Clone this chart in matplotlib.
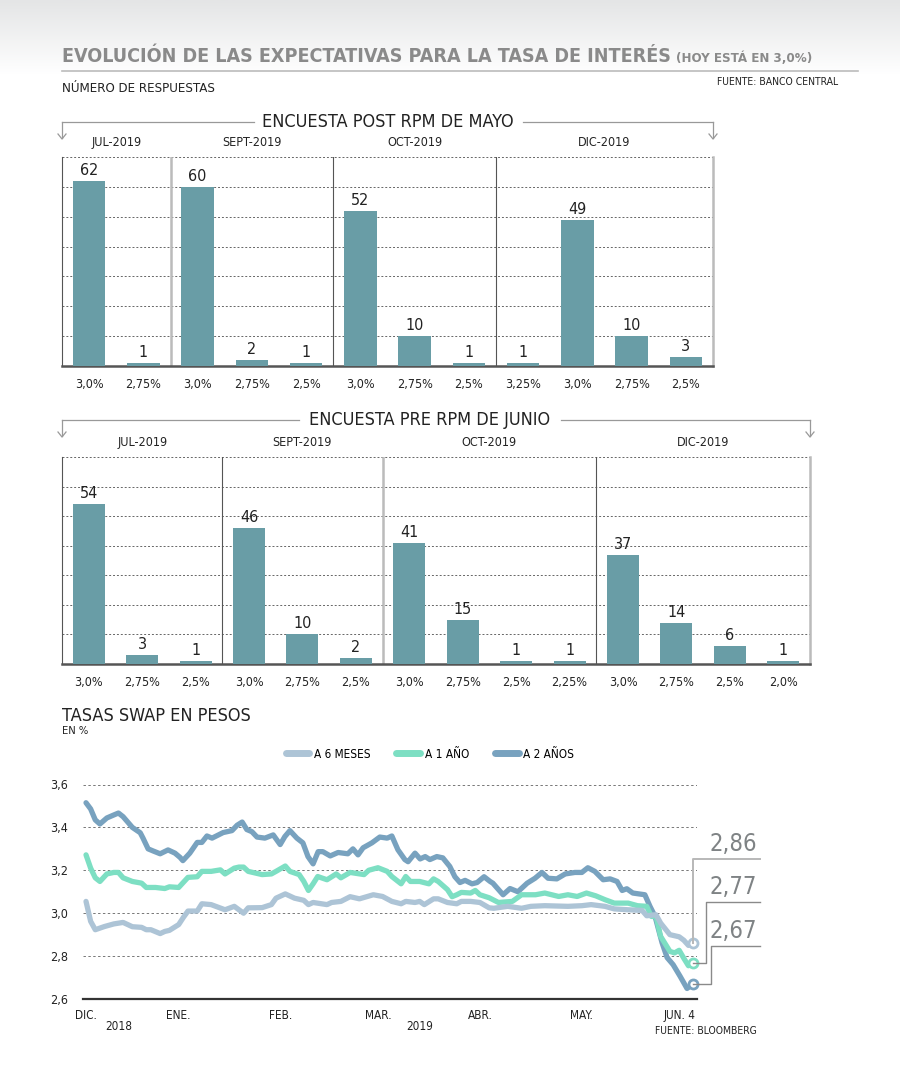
import matplotlib
matplotlib.use('Agg')
import matplotlib.pyplot as plt
from matplotlib.lines import Line2D
from matplotlib.colors import LinearSegmentedColormap
from matplotlib.transforms import blended_transform_factory
import numpy as np

plt.rcParams['font.family'] = ['DejaVu Sans']
plt.rcParams['font.stretch'] = 'condensed'

# --- encuesta post RPM de mayo
groups1 = ['JUL-2019', 'SEPT-2019', 'OCT-2019', 'DIC-2019']
sizes1 = [2, 3, 3, 4]
cats1 = ['3,0%', '2,75%', '3,0%', '2,75%', '2,5%', '3,0%', '2,75%', '2,5%',
         '3,25%', '3,0%', '2,75%', '2,5%']
vals1 = [62, 1, 60, 2, 1, 52, 10, 1, 1, 49, 10, 3]

# --- encuesta pre RPM de junio
groups2 = ['JUL-2019', 'SEPT-2019', 'OCT-2019', 'DIC-2019']
sizes2 = [3, 3, 4, 4]
cats2 = ['3,0%', '2,75%', '2,5%', '3,0%', '2,75%', '2,5%', '3,0%', '2,75%',
         '2,5%', '2,25%', '3,0%', '2,75%', '2,5%', '2,0%']
vals2 = [54, 3, 1, 46, 10, 2, 41, 15, 1, 1, 37, 14, 6, 1]

# --- tasas swap (indice = dia habil desde 3-dic-2018)
x_2a = [0, 1, 2, 3, 4.5, 6, 7, 8, 10, 11.7, 12.3, 13.4, 14.5, 16, 17.7, 19.2, 20.3, 20.9,
        22.4, 24, 25, 26.1, 27.2, 29.6, 31.5, 32.6, 33.7, 34.7, 35.8, 36.9, 38.6, 40.4,
        41.9, 42.9, 44, 45.5, 46.8, 47.9, 49, 50.1, 51.1, 52.7, 54.4, 56.5, 57.6, 58.7,
        59.8, 61.7, 63.4, 65, 66, 67.3, 68.8, 69.5, 71, 72.1, 73.2, 74.2, 75.7, 77, 78.5,
        79.6, 80.7, 81.8, 83.3, 84.4, 85.9, 87.2, 87.8, 90, 91.5, 93.2, 95.2, 96.9, 98.4,
        99.7, 101.6, 103.4, 105.5, 107, 108.3, 109.8, 111.6, 113.1, 114.6, 115.7, 116.7,
        118, 120.6, 121.7, 122.8, 124.3, 125.4, 126.7, 128.2, 129.7, 131]
y_2a = [3.515, 3.486, 3.435, 3.416, 3.444, 3.458, 3.467, 3.45, 3.40, 3.375, 3.35, 3.30,
        3.29, 3.277, 3.295, 3.28, 3.26, 3.245, 3.28, 3.33, 3.33, 3.36, 3.35, 3.376, 3.385,
        3.41, 3.425, 3.39, 3.38, 3.355, 3.35, 3.365, 3.32, 3.357, 3.385, 3.35, 3.328, 3.264,
        3.23, 3.287, 3.287, 3.267, 3.283, 3.277, 3.30, 3.272, 3.305, 3.328, 3.355, 3.35,
        3.36, 3.296, 3.25, 3.24, 3.28, 3.253, 3.264, 3.25, 3.264, 3.258, 3.218, 3.17, 3.143,
        3.153, 3.137, 3.143, 3.17, 3.148, 3.14, 3.086, 3.115, 3.10, 3.14, 3.163, 3.19, 3.163,
        3.16, 3.183, 3.19, 3.19, 3.212, 3.195, 3.156, 3.16, 3.148, 3.106, 3.114, 3.094,
        3.086, 3.032, 2.985, 2.863, 2.793, 2.76, 2.706, 2.649, 2.67]

x_1a = [0, 1, 2, 3, 4.5, 6, 7, 8, 10, 12, 13, 15, 17, 18, 20, 22, 24, 25, 27, 29, 30, 32,
        33, 34, 35, 38, 40, 41, 43, 44, 46, 47, 48, 49, 50, 52, 54, 55, 57, 60, 61, 63, 65,
        66, 68, 69, 70, 72, 74, 75, 76, 78, 79, 80, 81, 83, 84, 85, 87, 89, 92, 94, 97, 99,
        102, 104, 106, 108, 110, 112, 114, 117, 119, 121, 122, 123, 124, 126, 127, 128,
        129, 130, 131]
y_1a = [3.272, 3.21, 3.165, 3.148, 3.183, 3.19, 3.19, 3.165, 3.148, 3.14, 3.12, 3.12,
        3.115, 3.123, 3.12, 3.167, 3.17, 3.195, 3.195, 3.202, 3.183, 3.21, 3.215, 3.215,
        3.195, 3.18, 3.183, 3.195, 3.22, 3.195, 3.18, 3.148, 3.106, 3.137, 3.171, 3.156,
        3.183, 3.165, 3.19, 3.18, 3.20, 3.212, 3.195, 3.171, 3.137, 3.171, 3.148, 3.148,
        3.137, 3.16, 3.148, 3.11, 3.077, 3.086, 3.097, 3.094, 3.106, 3.086, 3.072, 3.05,
        3.055, 3.086, 3.086, 3.094, 3.078, 3.086, 3.078, 3.094, 3.081, 3.063, 3.047, 3.047,
        3.035, 3.032, 2.985, 2.985, 2.892, 2.822, 2.815, 2.827, 2.79, 2.755, 2.77]

x_6m = [0, 1, 2, 4, 6, 8, 10, 12, 13, 14, 16, 17, 18, 20, 21, 22, 24, 25, 27, 30, 32, 34,
        35, 38, 40, 41, 43, 45, 47, 48, 49, 52, 53, 55, 57, 59, 62, 64, 66, 68, 69, 71, 72,
        73, 75, 76, 78, 80, 81, 83, 85, 87, 88, 91, 94, 96, 99, 104, 107, 109, 112, 114,
        117, 120, 121, 123, 124, 126, 128, 129, 130, 131]
y_6m = [3.055, 2.962, 2.923, 2.938, 2.95, 2.957, 2.937, 2.934, 2.923, 2.923, 2.905, 2.915,
        2.92, 2.947, 2.98, 3.01, 3.01, 3.044, 3.04, 3.016, 3.032, 3.0, 3.025, 3.026, 3.04,
        3.07, 3.09, 3.07, 3.06, 3.04, 3.05, 3.04, 3.05, 3.055, 3.077, 3.067, 3.086, 3.078,
        3.055, 3.044, 3.055, 3.05, 3.055, 3.04, 3.067, 3.067, 3.05, 3.044, 3.055, 3.055,
        3.05, 3.025, 3.023, 3.032, 3.023, 3.032, 3.035, 3.032, 3.035, 3.04, 3.032, 3.02,
        3.016, 3.013, 2.988, 2.993, 2.954, 2.9, 2.89, 2.874, 2.85, 2.86]

month_idx = [0, 20, 42, 63, 85, 107, 128]
month_lbl = ['DIC.', 'ENE.', 'FEB.', 'MAR.', 'ABR.', 'MAY.', 'JUN. 4']
end_lbl = ['2,86', '2,77', '2,67']

BAR = '#699da6'
C6M, C1A, C2A = '#adc4d6', '#7ddfc3', '#78a2bf'
TXT = '#222222'

W, H = 900, 1070
fig = plt.figure(figsize=(9, 10.7), dpi=100)


def fx(x):
    return x / W


def fy(y):
    return 1 - y / H


# gray gradient at the top
bg = fig.add_axes([0, fy(75), 1, 75 / H], zorder=-5)
cmap = LinearSegmentedColormap.from_list('g', ['#e4e5e6', '#ffffff'])
bg.imshow(np.linspace(0, 1, 64).reshape(-1, 1), cmap=cmap, aspect='auto', extent=[0, 1, 0, 1])
bg.axis('off')

fig.text(fx(62), fy(56), 'EVOLUCIÓN DE LAS EXPECTATIVAS PARA LA TASA DE INTERÉS',
         fontsize=14.1, color='#8a8a8a', fontweight='bold', va='center')
fig.text(fx(676), fy(58), '(HOY ESTÁ EN 3,0%)', fontsize=9.5, color='#8a8a8a',
         fontweight='bold', va='center', ha='left')
fig.add_artist(Line2D([fx(62), fx(858)], [fy(71), fy(71)], color='#bbbbbb', lw=1.2))
fig.text(fx(62), fy(88), 'NÚMERO DE RESPUESTAS', fontsize=9.5, color=TXT, va='center')
fig.text(fx(838), fy(82), 'FUENTE: BANCO CENTRAL', fontsize=7.5, color=TXT, va='center', ha='right')


def header(text, xc, y, x0, x1, gap0, gap1):
    fig.text(fx(xc), fy(y), text, fontsize=13, color=TXT, ha='center', va='center')
    for a, b in [(x0, gap0), (gap1, x1)]:
        fig.add_artist(Line2D([fx(a), fx(b)], [fy(y), fy(y)], color='#999999', lw=0.9))
    for xe in (x0, x1):
        fig.add_artist(Line2D([fx(xe), fx(xe)], [fy(y), fy(y + 16)], color='#999999', lw=0.9))
        fig.add_artist(Line2D([fx(xe - 4), fx(xe), fx(xe + 4)],
                              [fy(y + 12), fy(y + 17), fy(y + 12)], color='#999999', lw=0.9))


def bar_panel(rect, cats, vals, groups, sizes, seps):
    ax = fig.add_axes(rect)
    x = np.arange(len(vals))
    ax.bar(x, vals, width=0.6, color=BAR, zorder=3)
    ax.set_xlim(-0.5, len(vals) - 0.5)
    ax.set_ylim(0, 70)
    ax.set_yticks(range(10, 71, 10))
    ax.yaxis.grid(True, linestyle=(0, (2, 2)), color='#666666', lw=0.7)
    ax.tick_params(left=False, labelleft=False, bottom=False, pad=5)
    ax.set_xticks(x)
    ax.set_xticklabels(cats, fontsize=9, color=TXT)
    for xi, v in zip(x, vals):
        ax.text(xi, v + 1.0, str(v), ha='center', va='bottom', fontsize=11.5, color=TXT, zorder=4)
    ax.spines['top'].set_visible(False)
    ax.spines['left'].set_color('#555555')
    ax.spines['left'].set_linewidth(0.8)
    ax.spines['right'].set_color('#bbbbbb')
    ax.spines['right'].set_linewidth(1.8)
    ax.spines['bottom'].set_color('#555555')
    ax.spines['bottom'].set_linewidth(1.8)
    bounds = np.cumsum(sizes)[:-1] - 0.5
    for b, s in zip(bounds, seps):
        if s == 'g':
            ax.axvline(b, color='#bbbbbb', lw=1.8, zorder=2)
        else:
            ax.axvline(b, color='#555555', lw=0.8, zorder=2)
    centers = np.cumsum(sizes) - np.array(sizes) / 2 - 0.5
    for c, g in zip(centers, groups):
        ax.annotate(g, xy=(c, 1), xycoords=('data', 'axes fraction'), xytext=(0, 6),
                    textcoords='offset points', ha='center', va='bottom', fontsize=9, color=TXT)
    return ax


header('ENCUESTA POST RPM DE MAYO', 388, 122, 62, 713, 254, 523)
bar_panel([fx(62), fy(366), fx(713) - fx(62), (366 - 157) / H],
          cats1, vals1, groups1, sizes1, ['g', 'd', 'd'])

header('ENCUESTA PRE RPM DE JUNIO', 430, 420, 62, 810, 299, 561)
bar_panel([fx(62), fy(664), fx(810) - fx(62), (664 - 457) / H],
          cats2, vals2, groups2, sizes2, ['d', 'g', 'd'])

# --- line chart
fig.text(fx(62), fy(716), 'TASAS SWAP EN PESOS', fontsize=13, color=TXT, va='center')
fig.text(fx(62), fy(731), 'EN %', fontsize=8, color=TXT, va='center')

ax = fig.add_axes([fx(83), fy(999), fx(697) - fx(83), (999 - 784.5) / H])
series = [(x_2a, y_2a, C2A, 'A 2 AÑOS'), (x_1a, y_1a, C1A, 'A 1 AÑO'), (x_6m, y_6m, C6M, 'A 6 MESES')]
for xs, ys, c, lab in series:
    ax.plot(xs, ys, color=c, lw=3.8, solid_joinstyle='round', solid_capstyle='round', zorder=3)
ax.set_xlim(-0.65, 131.85)
ax.set_ylim(2.6, 3.6)
yt = [2.6, 2.8, 3.0, 3.2, 3.4, 3.6]
ax.set_yticks(yt)
ax.set_yticklabels([f'{v:.1f}'.replace('.', ',') for v in yt], fontsize=9, color=TXT)
ax.yaxis.grid(True, linestyle=(0, (2.5, 2.5)), color='#777777', lw=0.7)
ax.set_xticks(month_idx)
ax.set_xticklabels(month_lbl, fontsize=8.5, color=TXT)
ax.tick_params(left=False, bottom=False, pad=4)
ax.tick_params(axis='y', pad=7)
for s in ['top', 'left', 'right']:
    ax.spines[s].set_visible(False)
ax.spines['bottom'].set_color('#333333')
ax.spines['bottom'].set_linewidth(1.6)
tr = blended_transform_factory(ax.transData, ax.transAxes)
ax.text(7, -0.13, '2018', transform=tr, ha='center', va='center', fontsize=8.5, color=TXT)
ax.text(72, -0.13, '2019', transform=tr, ha='center', va='center', fontsize=8.5, color=TXT)
fig.text(fx(757), fy(1031), 'FUENTE: BLOOMBERG', fontsize=7.5, color=TXT, ha='right', va='center')

handles = [Line2D([], [], color=c, lw=5, solid_capstyle='round') for _, _, c, _ in series[::-1]]
fig.legend(handles, [lab for *_, lab in series[::-1]], loc='center', ncol=3,
           bbox_to_anchor=(fx(430), fy(754)), frameon=False, fontsize=8.5,
           handlelength=2.0, columnspacing=2.2, handletextpad=0.4)

# end markers and connectors
kinks = [(None, 859), (706, 902), (711, 946)]
ends = [(x_6m, y_6m, C6M), (x_1a, y_1a, C1A), (x_2a, y_2a, C2A)]
fig.canvas.draw()
for (xs, ys, c), (kx, ly), lbl, lc in zip(ends, kinks, end_lbl, ['#b8b8b8', '#8a8a8a', '#8a8a8a']):
    dx, dy = ax.transData.transform((xs[-1], ys[-1]))
    px, py = dx, H - dy
    k = px if kx is None else kx
    fig.add_artist(Line2D([fx(px), fx(k), fx(k), fx(760)], [fy(py), fy(py), fy(ly), fy(ly)],
                          color=lc, lw=1.4 if kx is None else 1.0, zorder=1))
    ax.plot(xs[-1], ys[-1], 'o', mfc='white', mec=c, ms=6.5, mew=2, zorder=6, clip_on=False)
    fig.text(fx(757), fy(ly - 3), lbl, fontsize=17, color='#7f8385', ha='right', va='bottom')

fig.savefig('out.png', dpi=100)
